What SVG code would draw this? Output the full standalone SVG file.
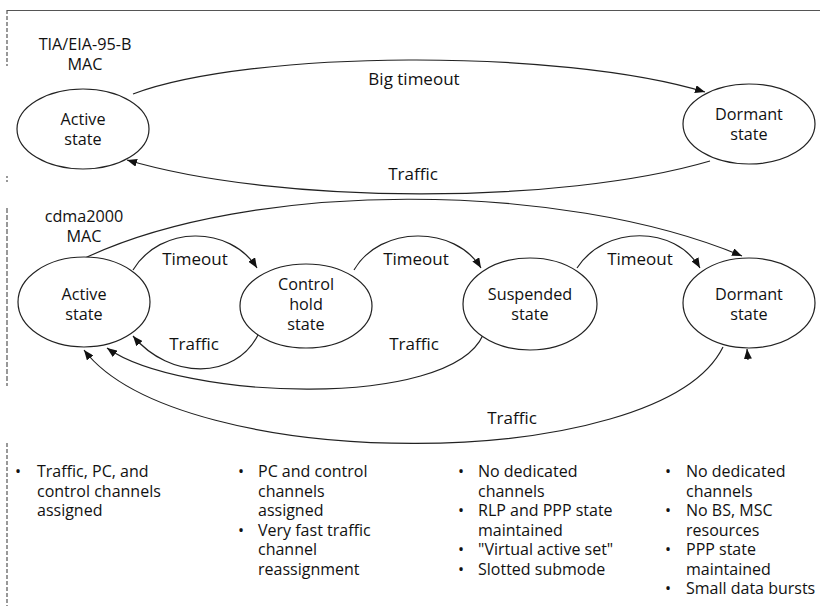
<svg xmlns="http://www.w3.org/2000/svg" width="820" height="606" viewBox="0 0 820 606">
<defs>
<marker id="ah" viewBox="0 0 10 8" refX="10" refY="4" markerWidth="10" markerHeight="8" markerUnits="userSpaceOnUse" orient="auto">
<path d="M0,0 L10,4 L0,8 Z" fill="#111"/>
</marker>
</defs>
<style>
text{font-family:"Open Sans","Noto Sans","Liberation Sans",sans-serif;font-size:17px;fill:#111}
.c{text-anchor:middle}
.m{font-size:16.2px}
.b text{font-size:16px}
.n{fill:#fff;stroke:#222;stroke-width:1.2}
.e{fill:none;stroke:#222;stroke-width:1.2}
.a{marker-end:url(#ah)}
.f{stroke:#555;stroke-width:1.2;fill:none}
</style>
<rect width="820" height="606" fill="#fff"/>
<g id="frame">
<line class="f" x1="7" y1="10.5" x2="820" y2="10.5"/>
<line class="f" x1="7" y1="10" x2="7" y2="66" stroke-dasharray="4,2"/>
<line class="f" x1="7" y1="176" x2="7" y2="182" stroke-dasharray="2,2"/>
<line class="f" x1="7" y1="208" x2="7" y2="386" stroke-dasharray="5,2"/>
<line class="f" x1="7" y1="443" x2="7" y2="606" stroke-dasharray="4,2"/>
</g>
<g id="titles">
<text class="c m"><tspan x="85" y="50">TIA/EIA-95-B</tspan><tspan x="85" y="70">MAC</tspan></text>
<text class="c m"><tspan x="84" y="222">cdma2000</tspan><tspan x="84" y="242">MAC</tspan></text>
</g>
<g id="connectors">
<path class="e a" d="M133,94 C250,50 560,48 705,92"/>
<path class="e a" d="M710,161 C560,205 280,205 127,160"/>
<path class="e a" d="M85,258 C250,180 560,180 742,256"/>
<path class="e a" d="M133,270 C160,225 230,225 257,268"/>
<path class="e a" d="M354,270 C380,225 455,225 481,268"/>
<path class="e a" d="M577,268 C605,225 675,225 700,268"/>
<path class="e a" d="M258,335 C235,380 170,380 133,336"/>
<path class="e a" d="M483,335 C450,410 180,400 107,348"/>
<path class="e a" d="M723,347 C660,475 180,475 84,350"/>
<path class="e a" d="M748,360 L747,349"/>
</g>
<g id="edge-labels">
<text class="c" x="414" y="85">Big timeout</text>
<text class="c" x="413" y="180">Traffic</text>
<text class="c" x="195" y="265">Timeout</text>
<text class="c" x="416" y="265">Timeout</text>
<text class="c" x="640" y="265">Timeout</text>
<text class="c" x="194" y="350">Traffic</text>
<text class="c" x="414" y="350">Traffic</text>
<text class="c" x="512" y="424">Traffic</text>
</g>
<g id="active95">
<ellipse class="n" cx="83" cy="129" rx="66" ry="40"/>
<text class="c m"><tspan x="83" y="125">Active</tspan><tspan x="83" y="145">state</tspan></text>
</g>
<g id="dormant95">
<ellipse class="n" cx="749" cy="124" rx="66" ry="40"/>
<text class="c m"><tspan x="749" y="120">Dormant</tspan><tspan x="749" y="140">state</tspan></text>
</g>
<g id="active2000">
<ellipse class="n" cx="84" cy="302" rx="66" ry="45"/>
<text class="c m"><tspan x="84" y="300">Active</tspan><tspan x="84" y="320">state</tspan></text>
</g>
<g id="controlhold">
<ellipse class="n" cx="306" cy="306" rx="66" ry="42"/>
<text class="c m"><tspan x="306" y="290">Control</tspan><tspan x="306" y="310">hold</tspan><tspan x="306" y="330">state</tspan></text>
</g>
<g id="suspended">
<ellipse class="n" cx="530" cy="304" rx="67" ry="46"/>
<text class="c m"><tspan x="530" y="300">Suspended</tspan><tspan x="530" y="320">state</tspan></text>
</g>
<g id="dormant2000">
<ellipse class="n" cx="749" cy="303" rx="66" ry="45"/>
<text class="c m"><tspan x="749" y="300">Dormant</tspan><tspan x="749" y="320">state</tspan></text>
</g>
<g id="notes" class="b">
<text id="notes-active"><tspan x="15" y="477">•</tspan><tspan x="37" y="477">Traffic, PC, and</tspan><tspan x="37" y="496.5">control channels</tspan><tspan x="37" y="516">assigned</tspan></text>
<text id="notes-control"><tspan x="238" y="477">•</tspan><tspan x="258" y="477">PC and control</tspan><tspan x="258" y="496.5">channels</tspan><tspan x="258" y="516">assigned</tspan><tspan x="238" y="535.5">•</tspan><tspan x="258" y="535.5">Very fast traffic</tspan><tspan x="258" y="555">channel</tspan><tspan x="258" y="574.5">reassignment</tspan></text>
<text id="notes-suspended"><tspan x="458" y="477">•</tspan><tspan x="478" y="477">No dedicated</tspan><tspan x="478" y="496.5">channels</tspan><tspan x="458" y="516">•</tspan><tspan x="478" y="516">RLP and PPP state</tspan><tspan x="478" y="535.5">maintained</tspan><tspan x="458" y="555">•</tspan><tspan x="478" y="555">"Virtual active set"</tspan><tspan x="458" y="574.5">•</tspan><tspan x="478" y="574.5">Slotted submode</tspan></text>
<text id="notes-dormant"><tspan x="665" y="477">•</tspan><tspan x="686" y="477">No dedicated</tspan><tspan x="686" y="496.5">channels</tspan><tspan x="665" y="516">•</tspan><tspan x="686" y="516">No BS, MSC</tspan><tspan x="686" y="535.5">resources</tspan><tspan x="665" y="555">•</tspan><tspan x="686" y="555">PPP state</tspan><tspan x="686" y="574.5">maintained</tspan><tspan x="665" y="594">•</tspan><tspan x="686" y="594">Small data bursts</tspan></text>
</g>
</svg>
